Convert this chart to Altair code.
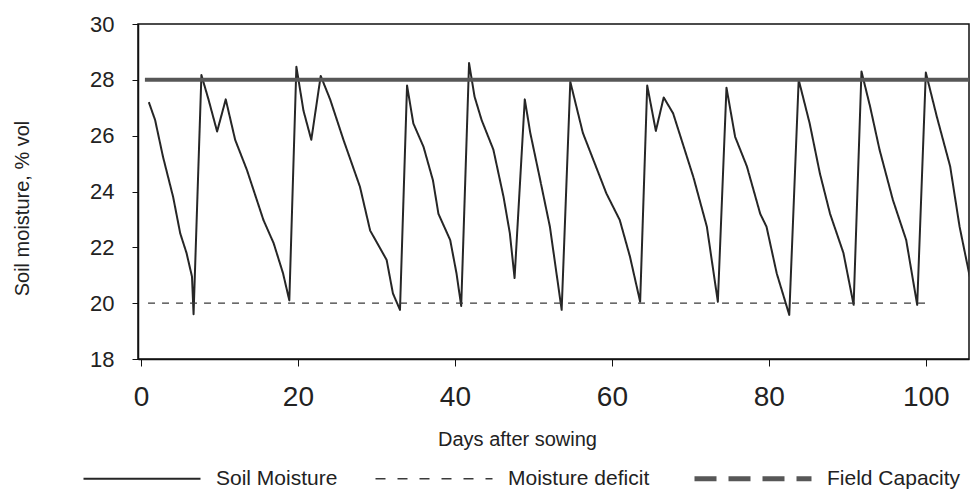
import altair as alt
import pandas as pd

# Soil moisture curve
days = [1.0, 1.8, 2.8, 4.1, 5.0, 5.8, 6.5, 6.7,
        7.7, 8.6, 9.7, 10.8, 12.0, 13.5, 15.6, 16.9, 18.1, 18.9,
        19.8, 20.7, 21.7, 22.9, 24.1, 25.8, 27.9, 29.2, 30.4, 31.3, 32.1, 33.0,
        33.9, 34.7, 36.0, 37.2, 37.9, 39.4, 40.2, 40.8,
        41.8, 42.5, 43.4, 44.9, 46.2, 47.0, 47.6,
        48.9, 49.6, 50.8, 52.1, 53.6,
        54.7, 56.3, 59.3, 61.0, 62.3, 63.6,
        64.5, 65.6, 66.6, 67.8, 70.4, 72.1, 73.5,
        74.6, 75.7, 77.2, 78.9, 79.7, 81.0, 82.6,
        83.8, 85.2, 86.5, 87.8, 89.5, 90.8,
        91.8, 92.9, 94.1, 95.8, 97.5, 98.9,
        100.0, 101.4, 103.1, 104.3, 105.6]
moisture = [27.2, 26.56, 25.25, 23.8, 22.5, 21.8, 20.95, 19.6,
            28.17, 27.3, 26.15, 27.3, 25.85, 24.77, 22.98, 22.15, 21.07, 20.1,
            28.47, 26.9, 25.85, 28.14, 27.3, 25.85, 24.17, 22.6, 22.0, 21.55, 20.35, 19.76,
            27.8, 26.44, 25.6, 24.4, 23.2, 22.26, 21.07, 19.9,
            28.6, 27.4, 26.56, 25.5, 23.8, 22.5, 20.9,
            27.3, 26.1, 24.5, 22.74, 19.76,
            27.93, 26.1, 23.93, 22.98, 21.67, 20.05,
            27.8, 26.17, 27.37, 26.8, 24.5, 22.74, 20.05,
            27.72, 25.96, 24.9, 23.2, 22.74, 21.07, 19.58,
            28.0, 26.44, 24.65, 23.2, 21.8, 19.94,
            28.3, 27.04, 25.5, 23.7, 22.26, 19.94,
            28.26, 26.68, 24.9, 22.74, 20.95]

capacity_days = [0.5, 105.5]
capacity_values = [28.0, 28.0]
deficit_days = [0.9, 100.0]
deficit_values = [20.0, 20.0]

series_names = ["Soil Moisture", "Moisture deficit", "Field Capacity"]
x_ticks = [0, 20, 40, 60, 80, 100]
y_ticks = [18, 20, 22, 24, 26, 28, 30]

rows = []
for d, v in zip(days, moisture):
    rows.append({"day": d, "value": v, "series": series_names[0]})
for d, v in zip(deficit_days, deficit_values):
    rows.append({"day": d, "value": v, "series": series_names[1]})
for d, v in zip(capacity_days, capacity_values):
    rows.append({"day": d, "value": v, "series": series_names[2]})
df = pd.DataFrame(rows)

FONT = "Liberation Sans"
colors = ["#262626", "#3a3a3a", "#575757"]

legend = alt.Legend(
    title=None,
    orient="none",
    legendX=-55,
    legendY=444,
    direction="horizontal",
    symbolType="stroke",
    symbolSize=13689,
    symbolOffset=48.5,
    labelOffset=63.5,
    symbolStrokeWidth={"expr": "datum.value == 'Field Capacity' ? 5 : (datum.value == 'Moisture deficit' ? 1.5 : 2)"},
    symbolDash={"expr": "datum.value == 'Moisture deficit' ? [10, 12] : (datum.value == 'Field Capacity' ? [22, 12] : [1, 0])"},
    labelFont=FONT,
    labelFontSize=21,
    labelColor="#222222",
    columnPadding=34,
)

chart = (
    alt.Chart(df)
    .transform_calculate(
        sw="datum.series == 'Field Capacity' ? 4 : (datum.series == 'Moisture deficit' ? 1.2 : 2)",
        sd="datum.series == 'Moisture deficit' ? [7, 7] : [1, 0]",
    )
    .mark_line(clip=True, strokeCap="butt", strokeJoin="round")
    .encode(
        x=alt.X(
            "day:Q",
            scale=alt.Scale(domain=[-0.38, 105.5], nice=False, zero=False),
            axis=alt.Axis(
                values=x_ticks,
                title="Days after sowing",
                titleFont=FONT,
                titleFontSize=20,
                titleFontWeight="normal",
                titleColor="#222222",
                titleBaseline="top",
                titleAlign="center",
                titleX=379,
                titleY=70,
                labelFont=FONT,
                labelFontSize=28,
                labelColor="#222222",
                labelPadding=17,
                tickSize=7,
                tickColor="#111111",
                domainColor="#111111",
                domainWidth=1.5,
                grid=False,
            ),
        ),
        y=alt.Y(
            "value:Q",
            scale=alt.Scale(domain=[18, 30], nice=False, zero=False),
            axis=alt.Axis(
                values=y_ticks,
                title="Soil moisture, % vol",
                titleFont=FONT,
                titleFontSize=20,
                titleFontWeight="normal",
                titleColor="#222222",
                titleBaseline="alphabetic",
                titleAlign="center",
                titleX=-110,
                titleY=184,
                labelFont=FONT,
                labelFontSize=22,
                labelColor="#222222",
                labelPadding=18,
                tickSize=6,
                tickColor="#111111",
                domainColor="#111111",
                domainWidth=1.5,
                grid=False,
            ),
        ),
        color=alt.Color("series:N", scale=alt.Scale(domain=series_names, range=colors), legend=legend),
        strokeDash=alt.StrokeDash("sd:N", scale=None, legend=None),
        strokeWidth=alt.StrokeWidth("sw:Q", scale=None, legend=None),
        detail="series:N",
    )
    .properties(
        width=831,
        height=335,
        autosize="none",
        padding={"left": 130, "top": 16, "right": 1, "bottom": 132},
    )
    .configure_view(stroke="#111111", strokeWidth=1.5)
)

chart.save("out.html", embed_options={"renderer": "svg", "actions": False})
